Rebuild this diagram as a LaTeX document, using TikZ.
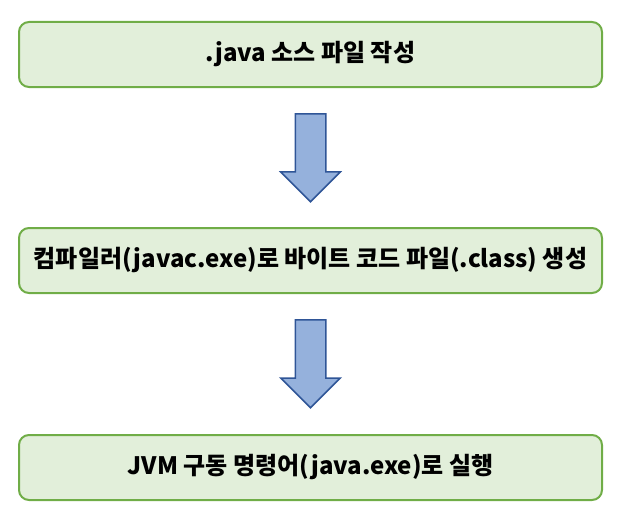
\documentclass[tikz,border=0pt]{standalone}
\usepackage{fontspec}
\newfontfamily\kofont{Noto Sans CJK KR}
\usepackage{xcolor}
\usepackage{tikz}
\usetikzlibrary{shapes,arrows,positioning}

\definecolor{boxfill}{HTML}{E2EFDA}
\definecolor{boxline}{HTML}{70AD47}
\definecolor{arrowfill}{HTML}{95B1DC}
\definecolor{arrowline}{HTML}{2F5597}

\begin{document}
\begin{tikzpicture}[
    x=1pt, y=-1pt,
    stepbox/.style={rectangle, rounded corners=10pt, draw=boxline, line width=2pt, fill=boxfill,
        minimum width=583pt, minimum height=65pt, inner sep=0pt, font=\kofont\bfseries\fontsize{24}{28}\selectfont},
    blockarrow/.style={single arrow, draw=arrowline, line width=1.5pt, fill=arrowfill, rotate=-90,
        minimum height=88pt, minimum width=58pt, single arrow head extend=14.5pt,
        inner xsep=0pt, inner ysep=14.5pt, anchor=tail}
]
\useasboundingbox (0,0) rectangle (629,527);

% Source file
\node[stepbox] (source) at (310.5,54.5) {.java 소스 파일 작성};

% Compile
\node[stepbox, below=139pt of source] (compile) {컴파일러(javac.exe)로 바이트 코드 파일(.class) 생성};

% Run
\node[stepbox, below=140pt of compile] (run) {JVM 구동 명령어(java.exe)로 실행};

% Arrows
\node[blockarrow] (arr1) at ([yshift=-25pt]source.south) {};
\node[blockarrow] (arr2) at ([yshift=-25pt]compile.south) {};

\end{tikzpicture}
\end{document}
